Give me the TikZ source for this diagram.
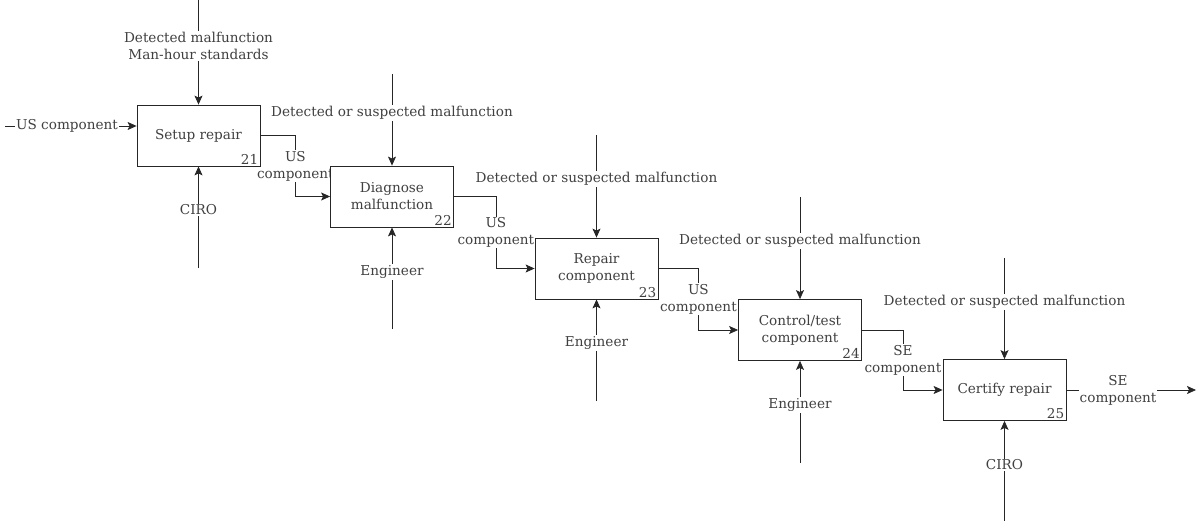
\documentclass[tikz,border=0pt]{standalone}
\usepackage{fontspec}
\setmainfont{DejaVu Serif}
\usetikzlibrary{arrows.meta,calc}
\begin{document}
\begin{tikzpicture}[x=1pt,y=-1pt,
  font=\fontsize{13.6}{17}\selectfont,
  every node/.style={text=black!75},
  activity/.style={draw=black!85,line width=0.8pt,fill=white,minimum width=123pt,minimum height=61pt,inner sep=0pt,align=center},
  num/.style={anchor=south east,inner sep=2pt},
  flow/.style={draw=black!85,line width=0.8pt,-{Stealth[length=9pt,width=8pt,inset=2pt]}},
  lbl/.style={fill=white,inner sep=1pt,align=center}]
\useasboundingbox (0,0) rectangle (1198,521);

% input to 21
\coordinate (in1) at (5,126);
% control sources
\coordinate (c1) at (198.5,0);
\coordinate (c2) at (392,74);
\coordinate (c3) at (596.5,135);
\coordinate (c4) at (800,197);
\coordinate (c5) at (1004.5,258);
% mechanism sources
\coordinate (m1) at (198.5,268);
\coordinate (m2) at (392,329);
\coordinate (m3) at (596.5,401);
\coordinate (m4) at (800,463);
\coordinate (m5) at (1004.5,521);
% output of 25
\coordinate (out5) at (1196,390);

% activity box centres; the frames are drawn last so they cover label overhang
\path (198.5,135.5) coordinate (p1) (392,196.5) coordinate (p2)
      (596.5,268.5) coordinate (p3) (800,330) coordinate (p4)
      (1004.5,390) coordinate (p5);
\path (p1) node[activity,draw=none,fill=none] (b1) {}
      (p2) node[activity,draw=none,fill=none] (b2) {}
      (p3) node[activity,draw=none,fill=none] (b3) {}
      (p4) node[activity,draw=none,fill=none] (b4) {}
      (p5) node[activity,draw=none,fill=none] (b5) {};

% input
\draw[flow] (in1) -- (b1.west |- in1);
\node[lbl] (lin) at (67,126) {US component};

% controls
\draw[flow] (c1) -- (b1.north);
\node[lbl] (lc1) at (198.5,46) {Detected malfunction\\Man-hour standards};
\foreach \i/\y in {2/113,3/179,4/241,5/302}{
  \draw[flow] (c\i) -- (b\i.north);
  \node[lbl] (lc\i) at (c\i |- 0,\y) {Detected or suspected malfunction};
}

% mechanisms
\foreach \i/\t/\y in {1/CIRO/210,2/Engineer/272,3/Engineer/343,4/Engineer/405,5/CIRO/465}{
  \draw[flow] (m\i) -- (b\i.south);
  \node[lbl] (lm\i) at (m\i |- 0,\y) {\t};
}

% box-to-box outputs
\draw[flow] (b1.east) -- ++(35,0) |- node[lbl,pos=0.25] (l12) {US\\component} (b2.west);
\draw[flow] (b2.east) -- ++(42,0) |- node[lbl,pos=0.25] (l23) {US\\component} (b3.west);
\draw[flow] (b3.east) -- ++(40,0) |- node[lbl,pos=0.25] (l34) {US\\component} (b4.west);
\draw[flow] (b4.east) -- ++(41,0) |- node[lbl,pos=0.25] (l45) {SE\\component} (b5.west);

% final output
\draw[flow] (b5.east) -- (out5);
\node[lbl] (lout) at (1118,390) {SE\\component};

% activity boxes
\node[activity] (a1) at (p1) {Setup repair};
\node[activity] (a2) at (p2) {Diagnose\\malfunction};
\node[activity] (a3) at (p3) {Repair\\component};
\node[activity] (a4) at (p4) {Control/test\\component};
\node[activity] (a5) at (p5) {Certify repair};
\node[num] at (a1.south east) {21};
\node[num] at (a2.south east) {22};
\node[num] at (a3.south east) {23};
\node[num] at (a4.south east) {24};
\node[num] at (a5.south east) {25};
\end{tikzpicture}
\end{document}
